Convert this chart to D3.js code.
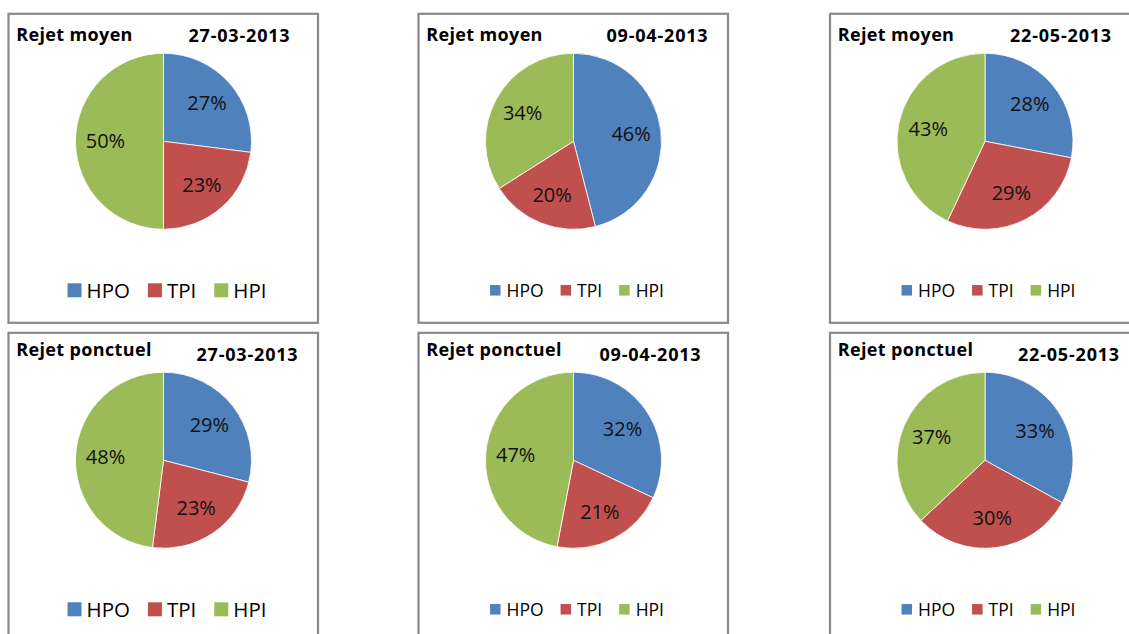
<!DOCTYPE html>
<html>
<head>
<meta charset="utf-8">
<script src="https://cdn.jsdelivr.net/npm/d3@7"></script>
<style>
  html, body { margin: 0; padding: 0; background: #ffffff; }
  svg { display: block; }
</style>
</head>
<body>
<svg id="chart" width="1129" height="634"></svg>
<script>
// Share of each source per sampling date
const categories = ["HPO", "TPI", "HPI"];
const panelTitles = ["Rejet moyen", "Rejet moyen", "Rejet moyen",
                     "Rejet ponctuel", "Rejet ponctuel", "Rejet ponctuel"];
const panelDates = ["27-03-2013", "09-04-2013", "22-05-2013",
                    "27-03-2013", "09-04-2013", "22-05-2013"];
const hpoValues = [27, 46, 28, 29, 32, 33];
const tpiValues = [23, 20, 29, 23, 21, 30];
const hpiValues = [50, 34, 43, 48, 47, 37];

// Styling and layout
const sliceColors = ["#4F81BD", "#C0504D", "#9BBB59"];
const colX = [8.5, 418.5, 830];
const rowY = [13.8, 332.8];
const panelW = 309.5, panelH = 309;
const dateDx = [180, 188, 180, 188, 181, 188];
const titleBaseline = [27, 23];
const bigLegend = [true, false, false, true, false, false];
const FONT = "'Open Sans', 'DejaVu Sans', sans-serif";

const svg = d3.select("#chart");
const color = d3.scaleOrdinal().domain(categories).range(sliceColors);
const pie = d3.pie().sort(null).value(d => d.value);
const radius = 88;
const arc = d3.arc().innerRadius(0).outerRadius(radius);
const labelArc = d3.arc().innerRadius(radius * 0.66).outerRadius(radius * 0.66);

panelTitles.forEach((title, i) => {
  const col = i % 3, row = Math.floor(i / 3);
  const g = svg.append("g").attr("transform", `translate(${colX[col]},${rowY[row]})`);

  // frame
  g.append("rect")
    .attr("width", panelW).attr("height", panelH)
    .attr("fill", "#ffffff")
    .attr("stroke", "#8a8a8a").attr("stroke-width", 2.2);

  // heading
  g.append("text")
    .attr("x", 7.8).attr("y", titleBaseline[row])
    .attr("font-family", FONT).attr("font-weight", 700)
    .attr("font-size", 18).attr("letter-spacing", 0.35)
    .attr("fill", "#000").text(title);
  g.append("text")
    .attr("x", dateDx[i]).attr("y", 28)
    .attr("font-family", FONT).attr("font-weight", 700)
    .attr("font-size", 18).attr("letter-spacing", 0.8)
    .attr("fill", "#000").text(panelDates[i]);

  // pie
  const data = categories.map((c, k) => ({
    key: c,
    value: [hpoValues, tpiValues, hpiValues][k][i]
  }));
  const arcs = pie(data);
  const pg = g.append("g").attr("transform", "translate(155,127.5)");
  pg.selectAll("path").data(arcs).join("path")
    .attr("d", arc)
    .attr("fill", d => color(d.data.key))
    .attr("stroke", "#ffffff").attr("stroke-width", 0.8);

  const labelSize = 20;
  pg.selectAll("text").data(arcs).join("text")
    .attr("transform", d => {
      const [x, y] = labelArc.centroid(d);
      return `translate(${x},${y + labelSize * 0.357})`;
    })
    .attr("text-anchor", "middle")
    .attr("font-family", FONT).attr("font-size", labelSize)
    .attr("fill", "#111")
    .text(d => d.data.value + "%");

  // legend
  const big = bigLegend[i];
  const fs = big ? 20.5 : 17.5;
  const sq = big ? 14 : 10.5;
  const gapIn = big ? 5 : 6;
  const gapOut = big ? 18 : 17;
  const lg = g.append("g");
  let cx = 0;
  categories.forEach(c => {
    const item = lg.append("g").attr("transform", `translate(${cx},0)`);
    item.append("rect")
      .attr("x", 0).attr("y", -sq / 2)
      .attr("width", sq).attr("height", sq)
      .attr("fill", color(c));
    const t = item.append("text")
      .attr("x", sq + gapIn).attr("y", fs * 0.357)
      .attr("font-family", FONT).attr("font-size", fs)
      .attr("fill", "#000").text(c);
    cx += sq + gapIn + t.node().getComputedTextLength() + gapOut;
  });
  const total = cx - gapOut;
  lg.attr("transform", `translate(${158.5 - total / 2},276.5)`);
});
</script>
</body>
</html>
